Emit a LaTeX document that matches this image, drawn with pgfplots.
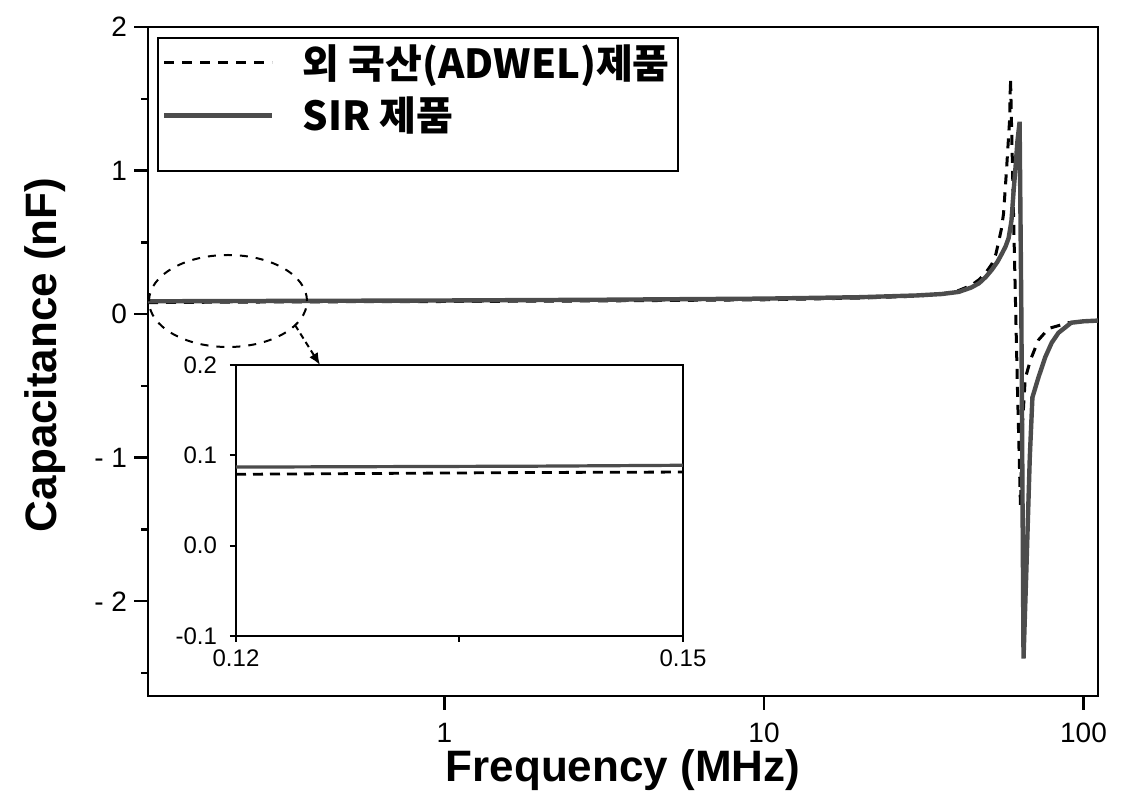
\documentclass[border=0pt]{standalone}
\usepackage{fontspec}
\setmainfont{Liberation Sans}
\newfontfamily\kr{Noto Sans CJK KR}
\usepackage{pgfplots}
\pgfplotsset{compat=1.18}
\usetikzlibrary{arrows.meta}
\definecolor{sirgray}{gray}{0.30}
\begin{document}
\begin{tikzpicture}
\path[use as bounding box] (-74pt,-51pt) rectangle (491.5pt,348pt);
\begin{axis}[
  at={(0pt,0pt)}, anchor=south west,
  scale only axis, width=475pt, height=334.5pt,
  xmode=log, xmin=0.118, xmax=111,
  ymin=-2.66, ymax=2,
  xtick={1,10,100}, xticklabels={1,10,100},
  xminorticks=false,
  ytick={-2,-1,0,1,2}, yticklabels={- 2,- 1,0,1,2},
  minor ytick={-2.5,-1.5,-0.5,0.5,1.5},
  tick pos=left, tick align=outside,
  major tick length=7pt, minor tick length=3.5pt,
  axis line style={line width=1.2pt},
  every tick/.style={line width=1.2pt, black},
  tick label style={font=\fontsize{14}{16}\selectfont},
  xticklabel style={anchor=center, yshift=-11.5pt},
  yticklabel style={anchor=east, xshift=0pt},
  xlabel={Frequency (MHz)}, ylabel={Capacitance (nF)},
  label style={font=\bfseries\fontsize{22}{26}\selectfont},
  xlabel style={at={(axis description cs:0.5,0)}, anchor=center, yshift=-37pt},
  ylabel style={at={(axis description cs:0,0.51)}, anchor=center, yshift=51.5pt},
  legend style={at={(axis description cs:0,1)}, anchor=north west, xshift=4.5pt, yshift=-5pt,
    draw=black, line width=1.2pt, font=\kr\bfseries\fontsize{20}{24}\selectfont,
    inner xsep=2pt, inner ysep=1pt, row sep=4pt,
    nodes={inner ysep=2pt},
    /tikz/every odd column/.append style={column sep=12pt}},
  legend cell align=left,
  legend image code/.code={\draw[#1] (0pt,0pt) -- (54pt,0pt);},
]
\addplot[black, line width=1.5pt, dash pattern=on 5pt off 4pt] table {
0.118 0.080
0.15 0.082
0.3 0.085
1 0.088
3 0.092
10 0.100
20 0.112
30 0.125
36 0.140
40.7 0.165
44.5 0.200
47.1 0.240
49.5 0.290
51.7 0.350
53.2 0.420
54.2 0.500
55.3 0.590
56.2 0.700
57.4 1.000
58.7 1.350
59.1 1.640
60.8 0.400
62.1 -0.500
63.5 -1.340
64.3 -0.800
65.7 -0.450
68.2 -0.320
72.3 -0.180
77.8 -0.100
89.8 -0.060
100 -0.052
111 -0.048
};
\addlegendentry{외 국산(ADWEL)제품}
\addplot[sirgray, line width=2.2pt] table {
0.118 0.090
0.15 0.090
0.3 0.092
1 0.095
3 0.100
10 0.108
20 0.118
30 0.130
36 0.140
40.7 0.155
44.5 0.185
47.1 0.215
49.5 0.260
51.7 0.310
53.8 0.365
55.5 0.420
57.0 0.470
58.3 0.530
59.5 0.650
60.4 0.850
61.3 1.030
62.1 1.200
63.1 1.340
63.9 0.000
64.9 -2.400
66.3 -1.760
67.9 -1.000
69.2 -0.580
72.3 -0.440
75.9 -0.300
79.5 -0.200
83.5 -0.130
91.5 -0.060
100 -0.050
111 -0.045
};
\addlegendentry{SIR 제품}
\addlegendimage{empty legend}
\addlegendentry{\rule{0pt}{6pt}}
\end{axis}
\draw[black, line width=1pt, dash pattern=on 4pt off 4pt] (40pt,197.5pt) ellipse [x radius=39.5pt, y radius=23pt];
\draw[black, line width=1pt, dash pattern=on 3pt off 2pt, -{Latex[length=6pt,width=5pt]}] (73.5pt,185.5pt) -- (86pt,165.5pt);
\begin{axis}[
  at={(44pt,30pt)}, anchor=south west,
  scale only axis, width=223.5pt, height=135.5pt,
  xmin=0.12, xmax=0.15, ymin=-0.1, ymax=0.2,
  xtick={0.12,0.15}, xticklabels={0.12,0.15},
  minor xtick={0.135},
  ytick={-0.1,0,0.1,0.2}, yticklabels={-0.1,0.0,0.1,0.2},
  tick pos=left, tick align=outside,
  major tick length=3pt, minor tick length=3pt,
  axis line style={line width=1.1pt},
  every tick/.style={line width=1pt, black},
  tick label style={font=\fontsize{12}{14}\selectfont},
  xticklabel style={anchor=center, yshift=-8pt},
  yticklabel style={anchor=east, xshift=-3pt},
  axis background/.style={fill=white},
]
\addplot[black, line width=1.4pt, dash pattern=on 5pt off 3.5pt] table {
0.12 0.079
0.13 0.080
0.14 0.081
0.15 0.0815
};
\addplot[sirgray, line width=1.6pt] table {
0.12 0.087
0.13 0.0875
0.14 0.088
0.15 0.089
};
\end{axis}
\end{tikzpicture}
\end{document}
